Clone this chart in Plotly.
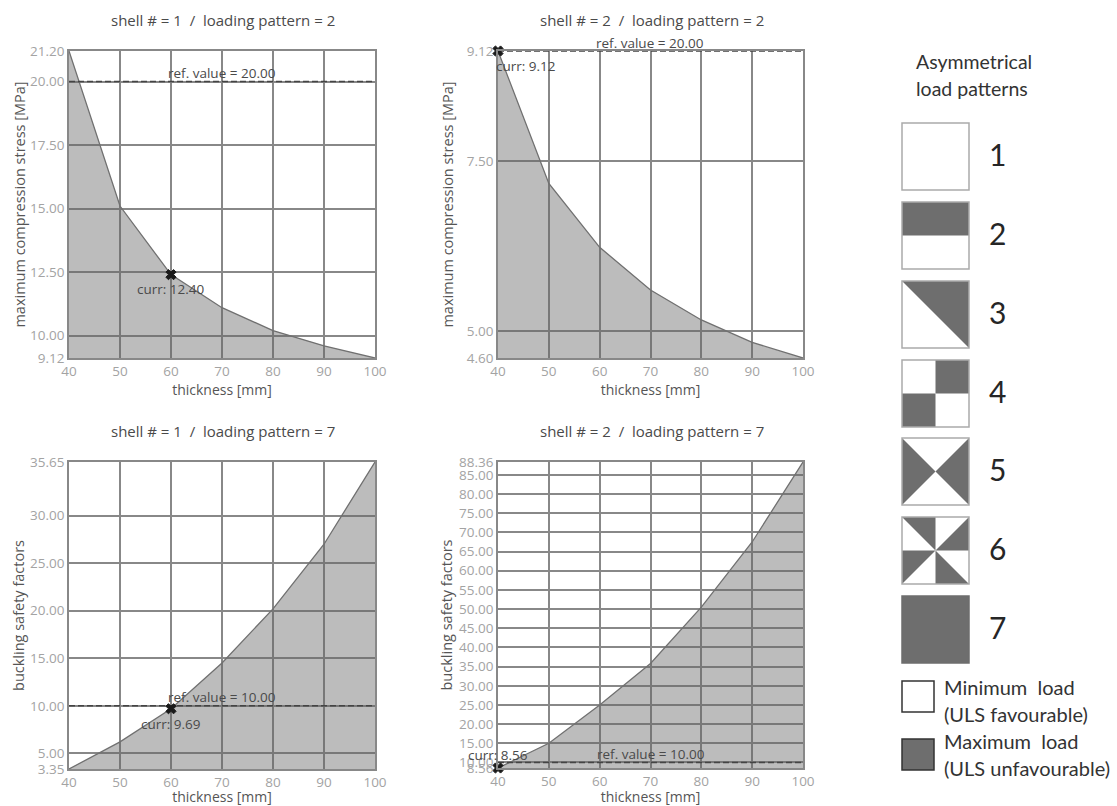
import plotly.graph_objects as go

thickness = [40, 50, 60, 70, 80, 90, 100]
thickness_ticks = [40, 50, 60, 70, 80, 90, 100]

s1_values = [21.20, 15.10, 12.40, 11.10, 10.20, 9.60, 9.12]
s2_values = [9.12, 7.17, 6.23, 5.60, 5.16, 4.83, 4.60]
s3_values = [3.35, 6.20, 9.69, 14.50, 20.20, 27.00, 35.65]
s4_values = [8.56, 15.00, 25.00, 35.80, 50.50, 67.50, 88.36]

s1_ticks = [9.12, 10, 12.5, 15, 17.5, 20, 21.2]
s2_ticks = [4.6, 5, 7.5, 9.12]
s3_ticks = [3.35, 5, 10, 15, 20, 25, 30, 35.65]
s4_ticks = [8.56, 10, 15, 20, 25, 30, 35, 40, 45, 50, 55, 60, 65, 70, 75, 80, 85, 88.36]

s1_ref, s2_ref, s3_ref, s4_ref = 20.00, 9.12, 10.00, 10.00
s1_ref_label = "ref. value = 20.00"
s2_ref_label = "ref. value = 20.00"
s3_ref_label = "ref. value = 10.00"
s4_ref_label = "ref. value = 10.00"

s1_curr = (60, 12.40)
s2_curr = (40, 9.12)
s3_curr = (60, 9.69)
s4_curr = (40, 8.56)

titles = ["shell # = 1 \u00a0/\u00a0 loading pattern = 2", "shell # = 2 \u00a0/\u00a0 loading pattern = 2",
          "shell # = 1 \u00a0/\u00a0 loading pattern = 7", "shell # = 2 \u00a0/\u00a0 loading pattern = 7"]
y_titles = ["maximum compression stress [MPa]", "maximum compression stress [MPa]",
            "buckling safety factors", "buckling safety factors"]
x_title = "thickness [mm]"

legend_title = ["Asymmetrical", "load patterns"]
pattern_names = ["1", "2", "3", "4", "5", "6", "7"]
pattern_polys = [
    [],
    [[(0, 0), (1, 0), (1, .5), (0, .5)]],
    [[(0, 0), (1, 0), (1, 1)]],
    [[(.5, 0), (1, 0), (1, .5), (.5, .5)], [(0, .5), (.5, .5), (.5, 1), (0, 1)]],
    [[(0, 0), (.5, .5), (0, 1)], [(1, 0), (.5, .5), (1, 1)]],
    [[(0, 0), (.5, 0), (.5, .5)], [(1, 0), (1, .5), (.5, .5)],
     [(0, .5), (.5, .5), (0, 1)], [(.5, .5), (.5, 1), (1, 1)]],
    [[(0, 0), (1, 0), (1, 1), (0, 1)]],
]
key_labels = [("Minimum\u00a0 load", "(ULS favourable)"), ("Maximum\u00a0 load", "(ULS unfavourable)")]

W, H = 1117, 806
GRID = "#888888"
TICK = "#a3a3a3"
LABEL = "#555555"
TEXT = "#4a4a4a"
DARK = "#6e6e6e"
FONT = "Open Sans"
LFONT = "Lato"

def px(x):
    return x / W

def py(y):
    return 1 - y / H

# last three: ref label centre, curr label centre, y-title standoff
panels = [
    (s1_values, s1_ticks, s1_ref, s1_ref_label, s1_curr, (69, 375), (51, 358), (222, 73), (171, 289), 1),
    (s2_values, s2_ticks, s2_ref, s2_ref_label, s2_curr, (498, 803), (51, 358), (650, 43), (526, 66), 10),
    (s3_values, s3_ticks, s3_ref, s3_ref_label, s3_curr, (69, 375), (462, 769), (222, 697), (171, 724), 2),
    (s4_values, s4_ticks, s4_ref, s4_ref_label, s4_curr, (498, 803), (462, 768), (651, 754), (498, 755), 3),
]

fig = go.Figure()
annotations = []
shapes = []
layout = {}

for i, (vals, ticks, ref, ref_label, curr, xp, yp, ra, ca, stand) in enumerate(panels):
    n = "" if i == 0 else str(i + 1)
    xa, ya = f"x{n}", f"y{n}"
    fig.add_trace(go.Scatter(x=thickness, y=vals, xaxis=xa, yaxis=ya, mode="lines", fill="tozeroy",
                             fillcolor="rgba(100,100,100,0.43)", line=dict(color="#707070", width=1.3),
                             showlegend=False, hoverinfo="skip"))
    fig.add_trace(go.Scatter(x=[thickness[0], thickness[-1]], y=[ref, ref], xaxis=xa, yaxis=ya, mode="lines",
                             line=dict(color="#444444", width=1.5, dash="6px,3px"), showlegend=False, hoverinfo="skip"))
    fig.add_trace(go.Scatter(x=[curr[0]], y=[curr[1]], xaxis=xa, yaxis=ya, mode="markers", cliponaxis=False,
                             marker=dict(symbol="x", size=9, color="#1a1a1a", line=dict(width=1, color="#1a1a1a")),
                             showlegend=False, hoverinfo="skip"))
    layout[f"xaxis{n}"] = dict(
        domain=[px(xp[0]), px(xp[1])], anchor=ya, range=[40, 100], tickmode="array",
        tickvals=thickness_ticks, ticktext=[str(t) for t in thickness_ticks],
        showgrid=True, gridcolor=GRID, gridwidth=1.5, zeroline=False, automargin=False,
        showline=True, mirror=True, linecolor=GRID, linewidth=1.5, ticks="", ticklen=0,
        tickfont=dict(family=FONT, size=13.5, color=TICK),
        title=dict(text=x_title, standoff=5, font=dict(family=FONT, size=14, color=LABEL)),
    )
    layout[f"yaxis{n}"] = dict(
        domain=[py(yp[1]), py(yp[0])], anchor=xa, range=[ticks[0], ticks[-1]], tickmode="array",
        tickvals=ticks, ticktext=[f"{t:.2f}" for t in ticks],
        showgrid=True, gridcolor=GRID, gridwidth=1.5, zeroline=False, automargin=False,
        showline=True, mirror=True, linecolor=GRID, linewidth=1.5, ticks="", ticklen=0,
        tickfont=dict(family=FONT, size=13.5, color=TICK),
        title=dict(text=y_titles[i], standoff=stand, font=dict(family=FONT, size=14.5, color=LABEL)),
    )
    annotations.append(dict(text=ref_label, x=px(ra[0]), y=py(ra[1]), xref="paper", yref="paper",
                            xanchor="center", yanchor="middle", showarrow=False,
                            font=dict(family=FONT, size=13.5, color=TEXT)))
    annotations.append(dict(text=f"curr: {curr[1]:.2f}", x=px(ca[0]), y=py(ca[1]), xref="paper", yref="paper",
                            xanchor="center", yanchor="middle", showarrow=False,
                            font=dict(family=FONT, size=13.5, color=TEXT)))
    annotations.append(dict(text=titles[i], x=px((xp[0] + xp[1]) / 2 + 1), y=py(20 if i < 2 else 431), xref="paper",
                            yref="paper", xanchor="center", yanchor="middle", showarrow=False,
                            font=dict(family=FONT, size=15, color=TEXT)))

# key of load patterns
for j, line in enumerate(legend_title):
    annotations.append(dict(text=line, x=px(914), y=py(62 + 26 * j), xref="paper", yref="paper", xanchor="left",
                            yanchor="middle", showarrow=False, font=dict(family=LFONT, size=19.5, color="#333333")))

SQ_X, SQ_S = 902, 67
sq_tops = [123, 202, 281, 360, 438, 517, 596]
for k, (name, polys) in enumerate(zip(pattern_names, pattern_polys)):
    top = sq_tops[k]
    for poly in polys:
        path = "M " + " L ".join(f"{px(SQ_X + a * SQ_S)},{py(top + b * SQ_S)}" for a, b in poly) + " Z"
        shapes.append(dict(type="path", path=path, xref="paper", yref="paper", fillcolor=DARK, line=dict(width=0)))
    shapes.append(dict(type="rect", xref="paper", yref="paper", x0=px(SQ_X), x1=px(SQ_X + SQ_S),
                       y0=py(top), y1=py(top + SQ_S), line=dict(color="#ababab" if k != 6 else DARK, width=1.5)))
    annotations.append(dict(text=name, x=px(997), y=py(top + 31), xref="paper", yref="paper", xanchor="center",
                            yanchor="middle", showarrow=False, font=dict(family=LFONT, size=30, color="#262626")))

key_tops = [681, 739]
key_text_y = [687, 741]
key_fills = ["white", DARK]
for top, ty, fill, lines in zip(key_tops, key_text_y, key_fills, key_labels):
    shapes.append(dict(type="rect", xref="paper", yref="paper", x0=px(902), x1=px(934), y0=py(top), y1=py(top + 31),
                       fillcolor=fill, line=dict(color="#333333", width=1.5)))
    for j, line in enumerate(lines):
        annotations.append(dict(text=line, x=px(941.5), y=py(ty + 26.5 * j), xref="paper", yref="paper",
                                xanchor="left", yanchor="middle", showarrow=False,
                                font=dict(family=LFONT, size=20, color="#333333")))

fig.update_layout(width=W, height=H, margin=dict(l=0, r=0, t=0, b=0, autoexpand=False), paper_bgcolor="white",
                  plot_bgcolor="white", annotations=annotations, shapes=shapes, showlegend=False, **layout)
fig.write_html("out.html", post_script="document.body.style.margin='0';document.body.style.overflow='hidden';",
               config=dict(displayModeBar=False))
